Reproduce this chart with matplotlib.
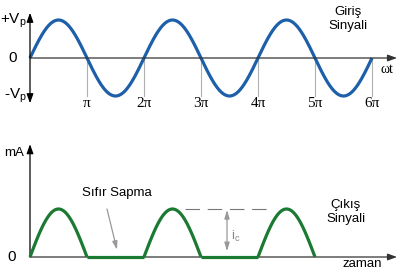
import numpy as np
import matplotlib.pyplot as plt

plt.rcParams['font.family'] = ['Liberation Sans', 'DejaVu Sans']

# chart values
cycles = 3                      # input sine cycles shown (0 .. 6 pi)
vp = 1.0                        # input amplitude
ic_peak = 1.0                   # output peak current
tick_multiples = [1, 2, 3, 4, 5, 6]
tick_labels = ['π', '2π', '3π', '4π', '5π', '6π']
out_halves = [1, 0, 1, 0, 1]    # conducting half cycles of output

blue = '#1d5fa9'
green = '#1b7a32'
grey = '#999999'
serif = ['Liberation Serif', 'DejaVu Serif']

PX = 57 / np.pi                 # pixels per radian
x0 = -30 / PX
x1 = 369 / PX


def px(p):
    # horizontal pixel -> radians
    return (p - 30) / PX


def arrow(a, tip, tail, color='black', style='-|>', hl=0.55, hw=0.2):
    a.annotate('', xy=tip, xytext=tail,
               arrowprops=dict(arrowstyle=f'{style},head_length={hl},head_width={hw}',
                               color=color, lw=0.9, shrinkA=0, shrinkB=0))


fig = plt.figure(figsize=(3.99, 2.80), dpi=100)

# ---------- top panel: input ----------
ax = fig.add_axes([0, 0, 1, 1])
ax.set_xlim(x0, x1)
ax.set_ylim((58 - 280) / 38, 58 / 38)
ax.axis('off')

t = np.linspace(0, cycles * 2 * np.pi, 600)
ax.plot(t, vp * np.sin(t), color=blue, lw=2.3, solid_capstyle='butt', zorder=3)

for m, lab in zip(tick_multiples, tick_labels):
    ax.plot([m * np.pi, m * np.pi], [0, -1.0], color='#b0b0b0', lw=0.8, zorder=1)
    ax.text(m * np.pi, -1.21, lab, ha='center', va='center', fontsize=11, family=serif)

arrow(ax, (0, 1.19), (0, 0))
arrow(ax, (0, -1.19), (0, 0))
arrow(ax, (px(397), 0), (0, 0), color='#333333')

ax.text(px(27), 0.97, '+V$_\\mathregular{p}$', ha='right', va='center', fontsize=11)
ax.text(px(13), 0, '0', ha='center', va='center', fontsize=11)
ax.text(px(27), -1.0, '-V$_\\mathregular{p}$', ha='right', va='center', fontsize=11)
ax.text(px(348), 1.03, 'Giriş\nSinyali', ha='center', va='center',
        fontsize=9.5, linespacing=1.2)
ax.text(px(387), -0.3, 'ωt', ha='center', va='center', fontsize=10, family=serif)

# ---------- bottom panel: output ----------
bx = fig.add_axes([0, 0, 1, 1])
bx.patch.set_alpha(0)
bx.set_xlim(x0, x1)
bx.set_ylim((257 - 280) / 48, 257 / 48)
bx.axis('off')

arrow(bx, (0, 2.35), (0, 0))
arrow(bx, (px(397), 0), (0, 0), color='#333333')

for k, on in enumerate(out_halves):
    tt = np.linspace(k * np.pi, (k + 1) * np.pi, 120)
    yy = ic_peak * np.sin(tt - k * np.pi) * on
    bx.plot(tt, yy, color=green, lw=2.3, solid_capstyle='butt', zorder=3)

# peak reference dashes and ic arrow
bx.plot([px(185), px(273)], [ic_peak, ic_peak],
        color='#777777', lw=0.8, ls=(0, (13, 7)))
arrow(bx, (px(227), ic_peak - 0.02), (px(227), 0.12), color=grey, style='<|-|>', hl=0.5, hw=0.15)
bx.text(px(236), 0.42, 'i$_\\mathregular{c}$', ha='center', va='center', fontsize=9.5, color='#888888')

arrow(bx, (px(117), 0.15), (px(107), 1.0), color=grey, hl=0.5, hw=0.15)
bx.text(px(117), 1.34, 'Sıfır Sapma', ha='center', va='center', fontsize=9.5)

bx.text(px(14), 2.17, 'mA', ha='center', va='center', fontsize=9.5)
bx.text(px(12), 0, '0', ha='center', va='center', fontsize=11)
bx.text(px(346), 0.94, 'Çıkış\nSinyali', ha='center', va='center', fontsize=9.5, linespacing=1.2)
bx.text(px(362), -0.15, 'zaman', ha='center', va='center', fontsize=9.5)

fig.savefig('out.png', dpi=100)
